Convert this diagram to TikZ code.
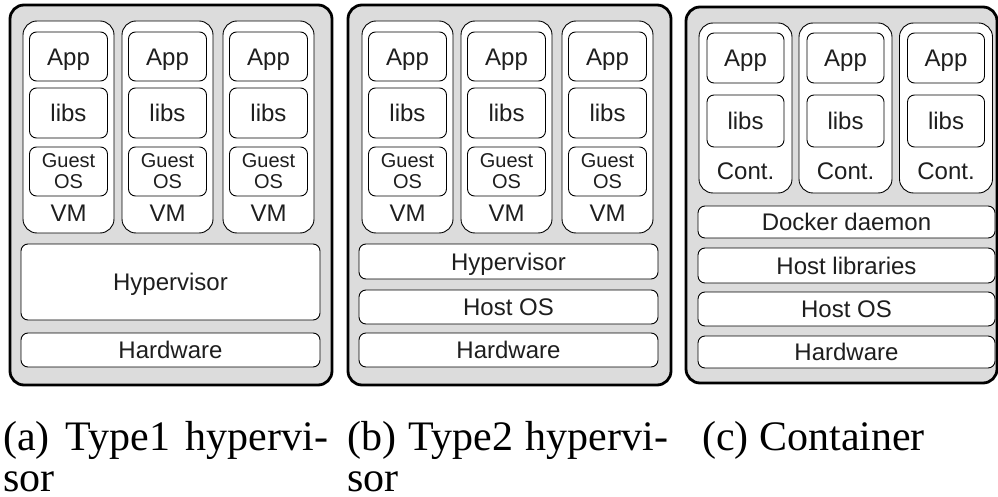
\documentclass[tikz,border=0pt]{standalone}
\usepackage{fontspec}
\setmainfont{Liberation Serif}
\setsansfont{Liberation Sans}
\definecolor{panelgray}{HTML}{DCDCDC}
\definecolor{txt}{HTML}{1E1E1E}
\newcommand\lblfont{\sffamily\fontsize{24}{26}\selectfont}
\newcommand\guestfont{\sffamily\fontsize{20}{21}\selectfont}
\newcommand\capfont{\rmfamily\fontsize{42}{42}\selectfont}
\tikzset{
  outerbox/.style={draw=black, line width=2.8pt, fill=panelgray, rounded corners=14pt, inner sep=0pt, outer sep=0pt},
  vmbox/.style={draw=black, line width=0.9pt, fill=white, rounded corners=14pt, inner sep=0pt, outer sep=0pt},
  layer/.style={draw=black, line width=0.9pt, fill=white, rounded corners=7pt, inner sep=0pt, outer sep=0pt,
                font=\lblfont, text=txt, text height=17.2pt, text depth=0pt},
  guestbox/.style={draw=black, line width=0.9pt, fill=white, rounded corners=7pt, inner sep=0pt, outer sep=0pt,
                font=\guestfont, text=txt, align=center},
  lbl/.style={font=\lblfont, text=txt, inner sep=0pt, text height=17.2pt, text depth=0pt},
  captext/.style={font=\capfont, anchor=base west, inner sep=0pt}
}
\begin{document}
\begin{tikzpicture}[x=1pt,y=-1pt]
\useasboundingbox (0,0) rectangle (998,497);

% ---------------- (a) Type 1 hypervisor ----------------
\node[outerbox, minimum width=322pt, minimum height=380pt] (a) at (171,195) {};
\foreach \i/\cx in {1/68.5,2/167.5,3/268.5}{
  \node[vmbox, minimum width=91pt, minimum height=212pt] (a-vm\i) at (\cx,127) {};
  \node[layer, minimum width=78pt, minimum height=49pt] (a-app\i) at (\cx,56.5) {App};
  \node[layer, minimum width=78pt, minimum height=50pt] (a-libs\i) at (\cx,113) {libs};
  \node[guestbox, minimum width=78pt, minimum height=49pt] (a-guest\i) at (\cx,171.5) {Guest\\OS};
  \node[lbl] (a-vml\i) at (\cx,213) {VM};
}
\node[layer, minimum width=299pt, minimum height=76pt] (a-hyp) at (170.5,282) {Hypervisor};
\node[layer, minimum width=299pt, minimum height=34pt] (a-hw) at (170.5,350) {Hardware};

% ---------------- (b) Type 2 hypervisor ----------------
\node[outerbox, minimum width=323pt, minimum height=380pt] (b) at (509.5,195) {};
\foreach \i/\cx in {1/407.5,2/506.5,3/607.5}{
  \node[vmbox, minimum width=91pt, minimum height=212pt] (b-vm\i) at (\cx,127) {};
  \node[layer, minimum width=78pt, minimum height=49pt] (b-app\i) at (\cx,56.5) {App};
  \node[layer, minimum width=78pt, minimum height=50pt] (b-libs\i) at (\cx,113) {libs};
  \node[guestbox, minimum width=78pt, minimum height=49pt] (b-guest\i) at (\cx,171.5) {Guest\\OS};
  \node[lbl] (b-vml\i) at (\cx,213) {VM};
}
\node[layer, minimum width=299pt, minimum height=35pt] (b-hyp) at (508.5,261.5) {Hypervisor};
\node[layer, minimum width=299pt, minimum height=34pt] (b-hos) at (508.5,307) {Host OS};
\node[layer, minimum width=299pt, minimum height=34pt] (b-hw) at (508.5,350) {Hardware};

% ---------------- (c) Container ----------------
\node[outerbox, minimum width=311pt, minimum height=376pt] (c) at (841.5,195) {};
\foreach \i/\cx in {1/745.5,2/845.5,3/946}{
  \node[vmbox, minimum width=93pt, minimum height=170pt] (c-ct\i) at (\cx,108) {};
  \node[layer, minimum width=77pt, minimum height=50pt] (c-app\i) at (\cx,58) {App};
  \node[layer, minimum width=77pt, minimum height=52pt] (c-libs\i) at (\cx,121) {libs};
  \node[lbl] (c-ctl\i) at (\cx,171) {Cont.};
}
\node[layer, minimum width=297pt, minimum height=32pt] (c-dd) at (846.5,222) {Docker daemon};
\node[layer, minimum width=297pt, minimum height=35pt] (c-hl) at (846.5,265.5) {Host libraries};
\node[layer, minimum width=297pt, minimum height=34pt] (c-hos) at (846.5,309) {Host OS};
\node[layer, minimum width=297pt, minimum height=32pt] (c-hw) at (846.5,352) {Hardware};

% ---------------- captions ----------------
\node[captext] (capa1) at (3,450) {\makebox[325pt][s]{(a) Type1 hypervi-}};
\node[captext] (capa2) at (3,491) {sor};
\node[captext] (capb1) at (347,450) {\makebox[321pt][s]{(b) Type2 hypervi-}};
\node[captext] (capb2) at (347,491) {sor};
\node[captext] (capc) at (702,450) {(c) Container};
\end{tikzpicture}
\end{document}
